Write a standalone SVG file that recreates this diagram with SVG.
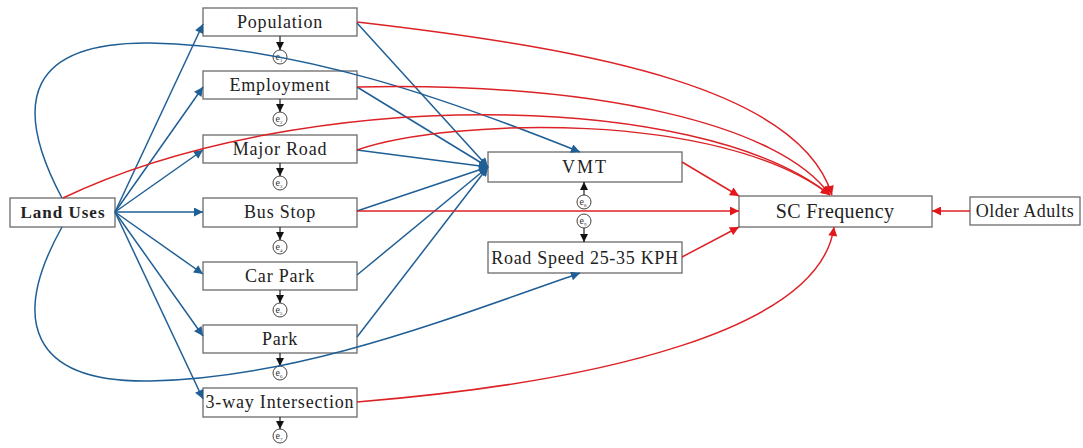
<svg xmlns="http://www.w3.org/2000/svg" width="1083" height="448" viewBox="0 0 1083 448">
<style>
.box{fill:#fff;stroke:#6b6b6b;stroke-width:1.3}
.lbl{font-family:"Liberation Serif",serif;font-size:18px;letter-spacing:0.8px;fill:#222;text-anchor:middle}
.bold{font-weight:bold;font-size:17px;letter-spacing:1px}
.ec{fill:#fff;stroke:#444;stroke-width:1}
.et{font-family:"Liberation Serif",serif;font-size:10px;fill:#333;text-anchor:middle}
.b{fill:none;stroke:#1f5f96;stroke-width:1.5;marker-end:url(#ab)}
.r{fill:none;stroke:#dc2226;stroke-width:1.5;marker-end:url(#ar)}
.k{fill:none;stroke:#222;stroke-width:1.2;marker-end:url(#ak)}
</style>
<defs>
<marker id="ab" viewBox="0 0 10 10" refX="10" refY="5" markerWidth="12" markerHeight="9" orient="auto" markerUnits="userSpaceOnUse"><path d="M0,0 L10,5 L0,10 z" fill="#1f5f96"/></marker>
<marker id="ar" viewBox="0 0 10 10" refX="10" refY="5" markerWidth="12" markerHeight="9" orient="auto" markerUnits="userSpaceOnUse"><path d="M0,0 L10,5 L0,10 z" fill="#e3161c"/></marker>
<marker id="ak" viewBox="0 0 10 10" refX="10" refY="5" markerWidth="8" markerHeight="8" orient="auto" markerUnits="userSpaceOnUse"><path d="M0,0 L10,5 L0,10 z" fill="#111"/></marker>
</defs>

<g id="node-landuses"><rect class="box" x="10" y="198" width="105" height="29"/><text class="lbl bold" x="63" y="218">Land Uses</text></g>
<g id="node-population"><rect class="box" x="203" y="8" width="154" height="28"/><text class="lbl" x="280" y="28">Population</text></g>
<g id="node-employment"><rect class="box" x="203" y="71" width="154" height="28"/><text class="lbl" x="280" y="91">Employment</text></g>
<g id="node-majorroad"><rect class="box" x="203" y="135" width="154" height="28"/><text class="lbl" x="280" y="155">Major Road</text></g>
<g id="node-busstop"><rect class="box" x="203" y="198" width="154" height="29"/><text class="lbl" x="280" y="218">Bus Stop</text></g>
<g id="node-carpark"><rect class="box" x="203" y="262" width="154" height="28"/><text class="lbl" x="280" y="282">Car Park</text></g>
<g id="node-park"><rect class="box" x="203" y="325" width="154" height="28"/><text class="lbl" x="280" y="345">Park</text></g>
<g id="node-3way"><rect class="box" x="203" y="388" width="154" height="29"/><text class="lbl" x="280" y="408">3-way Intersection</text></g>
<g id="node-vmt"><rect class="box" x="488" y="152" width="194" height="30"/><text class="lbl" x="585" y="173" style="letter-spacing:2px">VMT</text></g>
<g id="node-roadspeed"><rect class="box" x="488" y="242" width="194" height="31"/><text class="lbl" x="585" y="264" style="letter-spacing:0.7px">Road Speed 25-35 KPH</text></g>
<g id="node-scfreq"><rect class="box" x="739" y="196" width="193" height="31"/><text class="lbl" x="835" y="218" style="font-size:20px;letter-spacing:0.4px">SC Frequency</text></g>
<g id="node-older"><rect class="box" x="970" y="197" width="110" height="28"/><text class="lbl" x="1025" y="217" style="letter-spacing:0.5px">Older Adults</text></g>

<g id="errors">
<g id="e1"><circle class="ec" cx="280" cy="57" r="7"/><text class="et" x="279" y="60">e<tspan font-size="5" dy="2">1</tspan></text></g>
<g id="e2"><circle class="ec" cx="280" cy="119" r="7"/><text class="et" x="279" y="122">e<tspan font-size="5" dy="2">2</tspan></text></g>
<g id="e3"><circle class="ec" cx="280" cy="183" r="7"/><text class="et" x="279" y="186">e<tspan font-size="5" dy="2">3</tspan></text></g>
<g id="e4"><circle class="ec" cx="280" cy="247" r="7"/><text class="et" x="279" y="250">e<tspan font-size="5" dy="2">4</tspan></text></g>
<g id="e5"><circle class="ec" cx="280" cy="310" r="7"/><text class="et" x="279" y="313">e<tspan font-size="5" dy="2">5</tspan></text></g>
<g id="e6"><circle class="ec" cx="280" cy="373" r="7"/><text class="et" x="279" y="376">e<tspan font-size="5" dy="2">6</tspan></text></g>
<g id="e7"><circle class="ec" cx="280" cy="436" r="7"/><text class="et" x="279" y="439">e<tspan font-size="5" dy="2">7</tspan></text></g>
<g id="e8"><circle class="ec" cx="584" cy="202" r="7"/><text class="et" x="583" y="205">e<tspan font-size="5" dy="2">8</tspan></text></g>
<g id="e9"><circle class="ec" cx="584" cy="221" r="7"/><text class="et" x="583" y="224">e<tspan font-size="5" dy="2">9</tspan></text></g>
</g>

<g id="connectors">
<!-- error arrows -->
<path class="k" d="M280,36 V50"/>
<path class="k" d="M280,99 V112"/>
<path class="k" d="M280,163 V176"/>
<path class="k" d="M280,227 V240"/>
<path class="k" d="M280,290 V303"/>
<path class="k" d="M280,353 V366"/>
<path class="k" d="M280,417 V429"/>
<path class="k" d="M584,195 V182"/>
<path class="k" d="M584,228 V242"/>
<!-- land uses to mediators -->
<path class="b" d="M115,212 L203,24"/>
<path class="b" d="M115,212 L203,87"/>
<path class="b" d="M115,212 L203,150"/>
<path class="b" d="M115,212 L203,212"/>
<path class="b" d="M115,212 L203,274"/>
<path class="b" d="M115,212 L203,336"/>
<path class="b" d="M115,212 L203,399"/>
<!-- land uses curves -->
<path class="b" d="M62,198 C10,100 30,42 150,43 C300,46 450,100 580,152"/>
<path class="b" d="M62,227 C10,320 30,383 150,381 C300,378 450,318 580,273"/>
<!-- to VMT -->
<path class="b" d="M357,23 L488,167"/>
<path class="b" d="M357,87 L488,167"/>
<path class="b" d="M357,150 L488,167"/>
<path class="b" d="M357,211 L488,167"/>
<path class="b" d="M357,275 L488,167"/>
<path class="b" d="M357,337 L488,167"/>
<!-- to SC frequency -->
<path class="r" d="M357,22 C600,50 800,90 832,195"/>
<path class="r" d="M357,87 C600,82 780,125 830,195"/>
<path class="r" d="M63,198 C300,85 700,90 830,195"/>
<path class="r" d="M357,150 C450,118 720,110 830,195"/>
<path class="r" d="M682,162 L739,196"/>
<path class="r" d="M357,211 L739,211"/>
<path class="r" d="M682,257 L739,227"/>
<path class="r" d="M357,402 C600,382 820,330 834,227"/>
<path class="r" d="M970,211 L932,211"/>
</g>
</svg>
